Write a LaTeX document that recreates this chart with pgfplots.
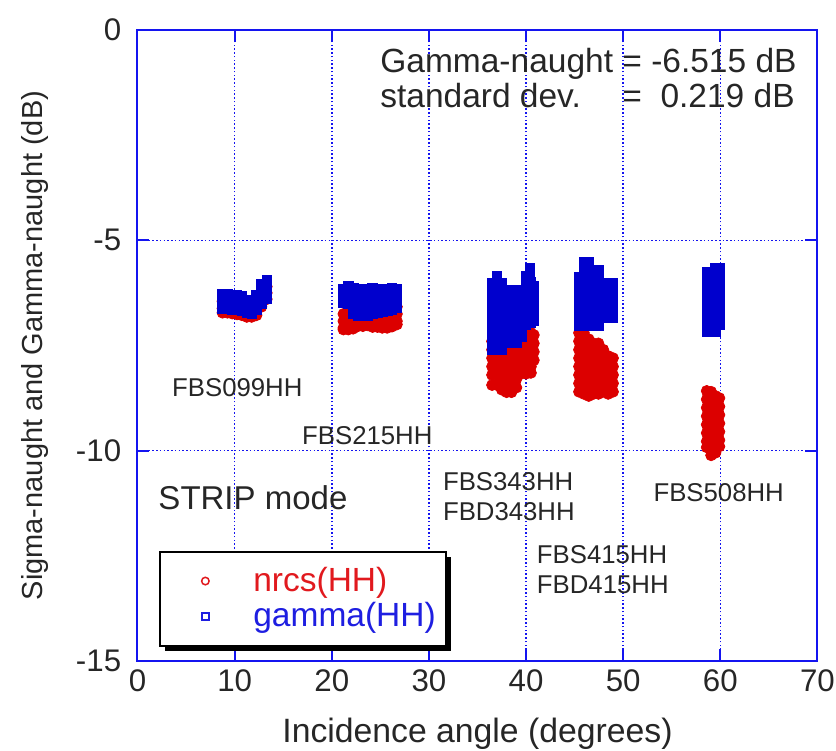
\documentclass[border=0pt]{standalone}
\usepackage{fontspec}
\setmainfont{Liberation Sans}
\usepackage{pgfplots}
\pgfplotsset{compat=1.18}
\usetikzlibrary{shadows}
\definecolor{dred}{RGB}{220,0,0}
\definecolor{dblue}{RGB}{0,0,205}
\definecolor{lred}{RGB}{225,25,30}
\definecolor{lblue}{RGB}{30,30,225}
\definecolor{frameblue}{RGB}{20,20,240}
\begin{document}
\begin{tikzpicture}
\useasboundingbox (-55pt,-35.6pt) rectangle (279.4pt,264.4pt);
\begin{axis}[
  at={(0,0)}, anchor=south west,
  scale only axis, width=272pt, height=252.4pt,
  xmin=0, xmax=70, ymin=-15, ymax=0,
  xtick={0,10,...,70}, ytick={-15,-10,-5,0},
  grid=major,
  grid style={frameblue, line width=0.6pt, dash pattern=on 0.6pt off 0.9pt},
  axis line style={frameblue, line width=0.8pt},
  tick style={frameblue, line width=0.8pt},
  major tick length=4.8pt,
  tick align=inside,
  /pgf/number format/assume math mode=true,
  ticklabel style={font=\fontsize{12.5}{14}\selectfont, text=black!85},
  yticklabel style={xshift=-3pt},
  xlabel={Incidence angle (degrees)},
  xlabel style={at={(axis description cs:0.5,0)}, anchor=base, yshift=-32.4pt, font=\fontsize{13.5}{16}\selectfont, text=black!85},
  ylabel={Sigma-naught and Gamma-naught (dB)},
  ylabel style={at={(axis description cs:0,0.5)}, anchor=base, yshift=38pt, font=\fontsize{11.6}{14}\selectfont, text=black!85},
  legend style={at={(axis cs:2.2,-12.38)}, anchor=north west, draw=black, line width=0.8pt, fill=white,
    inner xsep=3.2pt, inner ysep=5.4pt, row sep=1.5pt,
    drop shadow={shadow xshift=2pt, shadow yshift=-2pt, fill=black, opacity=1},
    font=\fontsize{13.4}{16}\selectfont, nodes={inner sep=0.7pt},
    /tikz/every odd column/.append style={column sep=14.5pt}},
  legend cell align=left,
  legend image code/.code={\pgfpathmoveto{\pgfqpoint{0pt}{0pt}}\pgfpathlineto{\pgfqpoint{19pt}{0pt}}\pgfusepath{}\draw[#1] plot coordinates {(15pt,0pt)};},
]
\addplot[only marks, mark=*, mark size=2.2pt, mark options={draw=dred, fill=dred, line width=0.3pt},
  legend image post style={mark=o, mark size=1.5pt, mark options={draw=lred, fill=none, line width=0.6pt}}]
coordinates {
(8.75,-6.45)(8.75,-6.62)(8.75,-6.72)
(9.25,-6.45)(9.25,-6.62)(9.25,-6.72)
(9.75,-6.47)(9.75,-6.62)(9.75,-6.74)
(10.25,-6.47)(10.25,-6.62)(10.25,-6.76)
(10.75,-6.49)(10.75,-6.64)(10.75,-6.78)
(11.25,-6.55)(11.25,-6.7)(11.25,-6.82)
(11.75,-6.55)(11.75,-6.7)(11.75,-6.82)
(12.25,-6.5)(12.25,-6.65)(12.25,-6.78)
(12.75,-6.25)(12.75,-6.42)(12.75,-6.58)
(13.3,-6.1)(13.3,-6.25)(13.3,-6.4)
(21.2,-6.75)(21.2,-6.92)(21.2,-7.08)(21.2,-7.12)
(21.7,-6.75)(21.7,-6.92)(21.7,-7.08)(21.7,-7.12)
(22.2,-6.72)(22.2,-6.9)(22.2,-7.05)(22.2,-7.1)
(22.7,-6.7)(22.7,-6.87)(22.7,-7.04)
(23.2,-6.7)(23.2,-6.87)(23.2,-7.04)
(23.7,-6.68)(23.7,-6.85)(23.7,-7.02)
(24.2,-6.65)(24.2,-6.82)(24.2,-6.98)(24.2,-7.06)
(24.7,-6.65)(24.7,-6.82)(24.7,-6.98)(24.7,-7.06)
(25.2,-6.65)(25.2,-6.82)(25.2,-6.98)(25.2,-7.08)
(25.7,-6.62)(25.7,-6.8)(25.7,-6.95)(25.7,-7.08)
(26.2,-6.6)(26.2,-6.78)(26.2,-6.95)(26.2,-7.05)
(26.7,-6.58)(26.7,-6.75)(26.7,-6.92)(26.7,-7.0)
(36.5,-7.4)(36.5,-7.6)(36.5,-7.8)(36.5,-8.0)(36.5,-8.2)(36.5,-8.44)
(37.0,-7.4)(37.0,-7.6)(37.0,-7.8)(37.0,-8.0)(37.0,-8.2)(37.0,-8.44)
(37.5,-7.4)(37.5,-7.6)(37.5,-7.8)(37.5,-8.0)(37.5,-8.2)(37.5,-8.4)(37.5,-8.55)
(38.0,-7.3)(38.0,-7.5)(38.0,-7.7)(38.0,-7.9)(38.0,-8.1)(38.0,-8.3)(38.0,-8.5)(38.0,-8.61)
(38.5,-7.3)(38.5,-7.5)(38.5,-7.7)(38.5,-7.9)(38.5,-8.1)(38.5,-8.3)(38.5,-8.5)(38.5,-8.61)
(39.0,-7.3)(39.0,-7.5)(39.0,-7.7)(39.0,-7.9)(39.0,-8.1)(39.0,-8.3)(39.0,-8.5)
(39.5,-7.2)(39.5,-7.4)(39.5,-7.6)(39.5,-7.8)(39.5,-8.0)(39.5,-8.17)
(40.0,-7.2)(40.0,-7.4)(40.0,-7.6)(40.0,-7.8)(40.0,-8.0)(40.0,-8.17)
(40.5,-7.2)(40.5,-7.4)(40.5,-7.6)(40.5,-7.8)(40.5,-8.0)(40.5,-8.15)
(40.8,-7.25)(40.8,-7.45)(40.8,-7.65)(40.8,-7.85)
(45.45,-7.2)(45.45,-7.4)(45.45,-7.6)(45.45,-7.8)(45.45,-8.0)(45.45,-8.2)(45.45,-8.4)(45.45,-8.6)
(45.95,-7.2)(45.95,-7.4)(45.95,-7.6)(45.95,-7.8)(45.95,-8.0)(45.95,-8.2)(45.95,-8.4)(45.95,-8.65)
(46.45,-7.35)(46.45,-7.55)(46.45,-7.75)(46.45,-7.95)(46.45,-8.15)(46.45,-8.35)(46.45,-8.55)(46.45,-8.7)
(46.95,-7.45)(46.95,-7.65)(46.95,-7.85)(46.95,-8.05)(46.95,-8.25)(46.95,-8.45)(46.95,-8.65)
(47.45,-7.45)(47.45,-7.65)(47.45,-7.85)(47.45,-8.05)(47.45,-8.25)(47.45,-8.45)(47.45,-8.65)
(47.95,-7.6)(47.95,-7.8)(47.95,-8.0)(47.95,-8.2)(47.95,-8.4)(47.95,-8.6)
(48.45,-7.75)(48.45,-7.95)(48.45,-8.15)(48.45,-8.35)(48.45,-8.55)(48.45,-8.65)
(48.95,-7.8)(48.95,-8.0)(48.95,-8.2)(48.95,-8.4)(48.95,-8.6)
(58.6,-8.58)(58.6,-8.78)(58.6,-8.98)(58.6,-9.18)(58.6,-9.38)(58.6,-9.58)(58.6,-9.78)(58.6,-9.92)
(59.05,-8.6)(59.05,-8.8)(59.05,-9.0)(59.05,-9.2)(59.05,-9.4)(59.05,-9.6)(59.05,-9.8)(59.05,-10.0)(59.05,-10.11)
(59.5,-8.7)(59.5,-8.9)(59.5,-9.1)(59.5,-9.3)(59.5,-9.5)(59.5,-9.7)(59.5,-9.9)(59.5,-10.05)
(59.9,-8.75)(59.9,-8.95)(59.9,-9.15)(59.9,-9.35)(59.9,-9.55)(59.9,-9.75)(59.9,-9.9)
};
\addlegendentry{\textcolor{lred}{nrcs(HH)}}
\addplot[only marks, mark=square*, mark size=1.9pt, mark options={draw=dblue, fill=dblue, line width=0.3pt},
  legend image post style={mark=square, mark size=1.4pt, mark options={draw=lblue, fill=none, line width=0.6pt}}]
coordinates {
(8.75,-6.28)(8.75,-6.45)(8.75,-6.62)
(9.25,-6.28)(9.25,-6.45)(9.25,-6.62)
(9.75,-6.3)(9.75,-6.47)(9.75,-6.64)
(10.25,-6.3)(10.25,-6.47)(10.25,-6.64)
(10.75,-6.32)(10.75,-6.49)(10.75,-6.66)
(11.25,-6.42)(11.25,-6.58)(11.25,-6.72)
(11.75,-6.42)(11.75,-6.58)(11.75,-6.74)
(12.25,-6.3)(12.25,-6.47)(12.25,-6.64)
(12.75,-6.05)(12.75,-6.2)(12.75,-6.36)(12.75,-6.5)
(13.3,-5.95)(13.3,-6.1)(13.3,-6.25)(13.3,-6.38)
(21.2,-6.15)(21.2,-6.32)(21.2,-6.49)
(21.7,-6.1)(21.7,-6.27)(21.7,-6.44)(21.7,-6.5)
(22.2,-6.13)(22.2,-6.3)(22.2,-6.47)(22.2,-6.62)(22.2,-6.75)
(22.7,-6.15)(22.7,-6.3)(22.7,-6.47)(22.7,-6.62)(22.7,-6.78)
(23.2,-6.18)(23.2,-6.33)(23.2,-6.5)(23.2,-6.65)(23.2,-6.8)
(23.7,-6.15)(23.7,-6.3)(23.7,-6.47)(23.7,-6.62)(23.7,-6.78)
(24.2,-6.13)(24.2,-6.3)(24.2,-6.47)(24.2,-6.62)(24.2,-6.75)
(24.7,-6.15)(24.7,-6.3)(24.7,-6.47)(24.7,-6.62)(24.7,-6.72)
(25.2,-6.16)(25.2,-6.32)(25.2,-6.49)(25.2,-6.62)(25.2,-6.7)
(25.7,-6.15)(25.7,-6.3)(25.7,-6.47)(25.7,-6.6)(25.7,-6.68)
(26.2,-6.14)(26.2,-6.3)(26.2,-6.47)(26.2,-6.6)(26.2,-6.65)
(26.7,-6.16)(26.7,-6.32)(26.7,-6.49)(26.7,-6.6)
(36.5,-6.01)(36.5,-6.2)(36.5,-6.4)(36.5,-6.6)(36.5,-6.8)(36.5,-7.0)(36.5,-7.2)(36.5,-7.4)(36.5,-7.59)
(37.0,-5.85)(37.0,-6.01)(37.0,-6.2)(37.0,-6.4)(37.0,-6.6)(37.0,-6.8)(37.0,-7.0)(37.0,-7.2)(37.0,-7.4)(37.0,-7.59)
(37.5,-6.01)(37.5,-6.2)(37.5,-6.4)(37.5,-6.6)(37.5,-6.8)(37.5,-7.0)(37.5,-7.2)(37.5,-7.4)(37.5,-7.59)
(38.0,-6.18)(38.0,-6.35)(38.0,-6.55)(38.0,-6.75)(38.0,-6.95)(38.0,-7.15)(38.0,-7.3)(38.0,-7.44)
(38.5,-6.18)(38.5,-6.35)(38.5,-6.55)(38.5,-6.75)(38.5,-6.95)(38.5,-7.15)(38.5,-7.3)(38.5,-7.44)
(39.0,-6.18)(39.0,-6.35)(39.0,-6.55)(39.0,-6.75)(39.0,-6.95)(39.0,-7.15)(39.0,-7.3)(39.0,-7.44)
(39.5,-6.18)(39.5,-6.35)(39.5,-6.55)(39.5,-6.75)(39.5,-6.95)(39.5,-7.15)(39.5,-7.3)
(40.0,-5.85)(40.0,-6.0)(40.0,-6.2)(40.0,-6.4)(40.0,-6.6)(40.0,-6.8)(40.0,-7.0)
(40.4,-5.65)(40.4,-5.8)(40.5,-6.0)(40.5,-6.2)(40.5,-6.4)(40.5,-6.6)(40.5,-6.8)(40.5,-6.95)
(40.8,-6.1)(40.8,-6.3)(40.8,-6.5)(40.8,-6.7)(40.8,-6.9)
(45.45,-5.87)(45.45,-6.05)(45.45,-6.25)(45.45,-6.45)(45.45,-6.65)(45.45,-6.85)(45.45,-7.03)
(45.95,-5.51)(45.95,-5.7)(45.95,-5.9)(45.95,-6.1)(45.95,-6.3)(45.95,-6.5)(45.95,-6.7)(45.95,-6.88)(45.95,-7.03)
(46.45,-5.51)(46.45,-5.7)(46.45,-5.9)(46.45,-6.1)(46.45,-6.3)(46.45,-6.5)(46.45,-6.7)(46.45,-6.88)(46.45,-7.03)
(46.95,-5.71)(46.95,-5.9)(46.95,-6.1)(46.95,-6.3)(46.95,-6.5)(46.95,-6.7)(46.95,-6.88)(46.95,-7.03)
(47.45,-5.71)(47.45,-5.9)(47.45,-6.1)(47.45,-6.3)(47.45,-6.5)(47.45,-6.7)(47.45,-6.88)(47.45,-7.03)
(47.95,-6.01)(47.95,-6.2)(47.95,-6.4)(47.95,-6.6)(47.95,-6.84)
(48.45,-6.01)(48.45,-6.2)(48.45,-6.4)(48.45,-6.6)(48.45,-6.84)
(48.95,-6.01)(48.95,-6.2)(48.95,-6.4)(48.95,-6.6)(48.95,-6.84)
(58.6,-5.75)(58.6,-5.95)(58.6,-6.15)(58.6,-6.35)(58.6,-6.55)(58.6,-6.75)(58.6,-6.95)(58.6,-7.18)
(59.05,-5.75)(59.05,-5.95)(59.05,-6.15)(59.05,-6.35)(59.05,-6.55)(59.05,-6.75)(59.05,-6.95)(59.05,-7.18)
(59.5,-5.66)(59.5,-5.85)(59.5,-6.05)(59.5,-6.25)(59.5,-6.45)(59.5,-6.65)(59.5,-6.85)(59.5,-7.05)(59.5,-7.18)
(59.9,-5.66)(59.9,-5.85)(59.9,-6.05)(59.9,-6.25)(59.9,-6.45)(59.9,-6.65)(59.9,-6.85)(59.9,-7.0)
};
\addlegendentry{\textcolor{lblue}{gamma(HH)}}
\node[anchor=base west, inner sep=0pt, font=\fontsize{13.4}{16}\selectfont, text=black!85] at (axis cs:24.95,-1.0) {\makebox[7.225em][l]{Gamma-naught}= -6.515 dB};
\node[anchor=base west, inner sep=0pt, font=\fontsize{13.4}{16}\selectfont, text=black!85] at (axis cs:24.95,-1.854) {\makebox[7.225em][l]{standard dev.}=\ \ 0.219 dB};
\node[anchor=base west, inner sep=0pt, font=\fontsize{10.3}{12}\selectfont, text=black!85] at (axis cs:3.52,-8.72) {FBS099HH};
\node[anchor=base west, inner sep=0pt, font=\fontsize{10.3}{12}\selectfont, text=black!85] at (axis cs:16.9,-9.86) {FBS215HH};
\node[anchor=base west, inner sep=0pt, font=\fontsize{10.3}{12}\selectfont, text=black!85] at (axis cs:31.4,-10.95) {FBS343HH};
\node[anchor=base west, inner sep=0pt, font=\fontsize{10.3}{12}\selectfont, text=black!85] at (axis cs:31.4,-11.65) {FBD343HH};
\node[anchor=base west, inner sep=0pt, font=\fontsize{10.3}{12}\selectfont, text=black!85] at (axis cs:41.07,-12.68) {FBS415HH};
\node[anchor=base west, inner sep=0pt, font=\fontsize{10.3}{12}\selectfont, text=black!85] at (axis cs:41.07,-13.39) {FBD415HH};
\node[anchor=base west, inner sep=0pt, font=\fontsize{10.3}{12}\selectfont, text=black!85] at (axis cs:53.07,-11.21) {FBS508HH};
\node[anchor=base west, inner sep=0pt, font=\fontsize{13.2}{16}\selectfont, text=black!85] at (axis cs:2.11,-11.41) {STRIP mode};
\end{axis}
\end{tikzpicture}
\end{document}
